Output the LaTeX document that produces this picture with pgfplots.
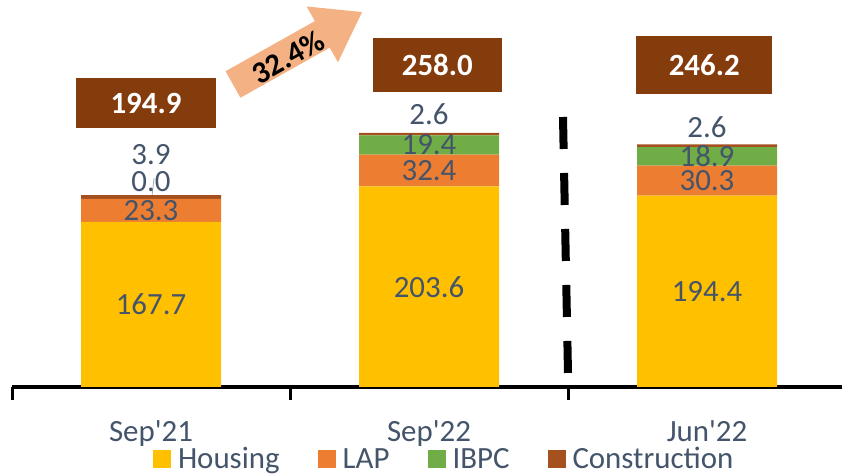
\documentclass[border=0pt]{standalone}
\usepackage{pgfplots}
\pgfplotsset{compat=1.18}
\usepackage{fontspec}
\setmainfont{Carlito}
\definecolor{housing}{HTML}{FFC000}
\definecolor{lap}{HTML}{ED7D31}
\definecolor{ibpc}{HTML}{70AD47}
\definecolor{constr}{HTML}{A5501F}
\definecolor{boxbrown}{HTML}{843C0C}
\definecolor{lbl}{HTML}{44546A}
\definecolor{arrowc}{HTML}{F4B183}
\newcommand{\chartfont}{\fontsize{31}{37}\selectfont}
\begin{document}
\begin{tikzpicture}[x=1bp,y=1bp]
\begin{axis}[
  at={(12bp,88bp)}, anchor=south west,
  x=278bp, y=0.985bp,
  xmin=-0.5, xmax=2.5, ymin=0, ymax=390,
  ybar stacked, bar width=140bp,
  axis x line*=bottom, axis y line=none,
  x axis line style={line width=4bp, black, -},
  xtick={0,1,2},
  xticklabels={Sep\textquotesingle 21,Sep\textquotesingle 22,Jun\textquotesingle 22},
  major tick length=0pt,
  minor xtick={-0.5,0.5,1.5,2.5},
  minor tick length=13bp,
  tick align=outside,
  minor tick style={line width=3bp, black},
  xticklabel style={font=\chartfont, text=lbl, anchor=base, yshift=-55bp},
  clip=false,
  legend columns=4,
  legend cell align=left,
  legend style={at={(axis cs:0.0072,-73)}, anchor=west, draw=none, fill=none,
    inner sep=0pt, outer sep=0pt, font=\chartfont, text=lbl,
    nodes={inner sep=1bp},
    /tikz/every odd column/.append style={column sep=6bp},
    /tikz/every even column/.append style={column sep=37bp}},
  every axis plot post/.append style={draw=none,
    legend image code/.code={\fill[##1] (0bp,-9bp) rectangle (18bp,9bp);}},
]
\addplot[fill=housing] coordinates {(0,167.7) (1,203.6) (2,194.4)};
\addplot[fill=lap] coordinates {(0,23.3) (1,32.4) (2,30.3)};
\addplot[fill=ibpc] coordinates {(0,0.0) (1,19.4) (2,18.9)};
\addplot[fill=constr] coordinates {(0,3.9) (1,2.6) (2,2.6)};
\legend{Housing,LAP,IBPC,Construction}
\end{axis}
\begin{axis}[
  at={(12bp,88bp)}, anchor=south west,
  x=278bp, y=0.985bp,
  xmin=-0.5, xmax=2.5, ymin=0, ymax=390,
  hide axis, clip=false,
]
\addplot[only marks, mark size=0pt, mark options={draw=none,fill=none},
  point meta=explicit symbolic, nodes near coords,
  nodes near coords style={anchor=center, font=\chartfont, text=lbl, inner sep=0pt}]
  coordinates {
  (0,83.85) [167.7] (0,179.35) [23.3] (0,209) [0.0] (0,235.5) [3.9]
  (1,101.8) [203.6] (1,219.8) [32.4] (1,245.7) [19.4] (1,277) [2.6]
  (2,97.2) [194.4] (2,209.55) [30.3] (2,234.15) [18.9] (2,264) [2.6]
  };
\addplot[only marks, mark size=0pt, mark options={draw=none,fill=none},
  point meta=explicit symbolic, nodes near coords,
  nodes near coords style={anchor=center, font=\chartfont\bfseries, text=white,
    fill=boxbrown, inner sep=0pt, minimum width=140bp, minimum height=50bp}]
  coordinates {(-0.018,288.3) [194.9]};
\addplot[only marks, mark size=0pt, mark options={draw=none,fill=none},
  point meta=explicit symbolic, nodes near coords,
  nodes near coords style={anchor=center, font=\chartfont\bfseries, text=white,
    fill=boxbrown, inner sep=0pt, minimum width=129bp, minimum height=54bp}]
  coordinates {(1.03,327) [258.0]};
\addplot[only marks, mark size=0pt, mark options={draw=none,fill=none},
  point meta=explicit symbolic, nodes near coords,
  nodes near coords style={anchor=center, font=\chartfont\bfseries, text=white,
    fill=boxbrown, inner sep=0pt, minimum width=136bp, minimum height=58bp}]
  coordinates {(1.99,326.4) [246.2]};
\draw[color=lbl!50, line width=0.8bp] (axis cs:0.004,195) -- (axis cs:0.011,212);
\end{axis}
% growth arrow
\begin{scope}[shift={(233,390.5)}, rotate=29.3]
\fill[arrowc] (0,-15.2) -- (102.4,-15.2) -- (102.4,-32) -- (148,0) -- (102.4,32) -- (102.4,15.2) -- (0,15.2) -- cycle;
\end{scope}
\node[rotate=29.3, font=\chartfont\bfseries, text=black, inner sep=0pt] at (288,418) {32.4\%};
% dashed separator
\draw[line width=8bp, black, dash pattern=on 32bp off 24bp] (563,358) -- (568,102);
\pgfresetboundingbox
\useasboundingbox (0,0) rectangle (842,475);
\end{tikzpicture}
\end{document}
